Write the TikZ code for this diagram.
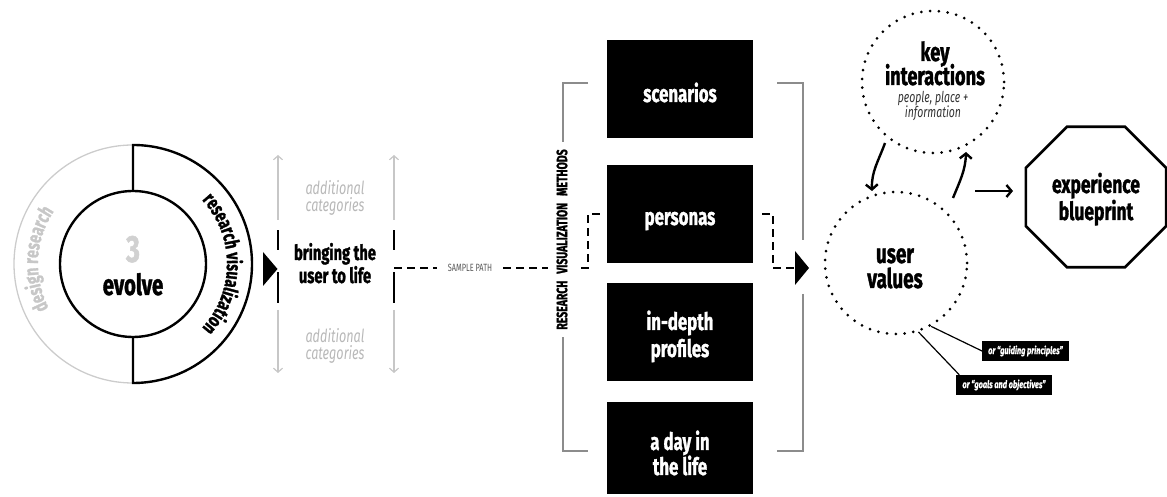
\documentclass[tikz,border=0pt]{standalone}
\usepackage{fontspec}
\setmainfont{Fira Sans}[FakeStretch=0.7, BoldFeatures={FakeBold=1.3}, BoldItalicFeatures={FakeBold=0.8}]
\usetikzlibrary{decorations.text,shapes.geometric,arrows.meta}
\begin{document}
\begin{tikzpicture}[x=1pt,y=1pt,
  every node/.style={inner sep=0pt},
  methodbox/.style={fill=black, minimum width=146pt, minimum height=98pt},
  methodtxt/.style={text=white, anchor=base, font=\bfseries\fontsize{24}{24}\selectfont},
  bigtxt/.style={anchor=base, font=\bfseries\fontsize{25}{25}\selectfont},
  dotc/.style={circle, draw, line width=3pt, dash pattern=on 0pt off 8.8pt, line cap=round, minimum size=142pt},
  arr/.style={line width=2.4pt, -{Straight Barb[length=5pt,width=12pt]}},
  samp/.style={line width=2pt, dash pattern=on 8pt off 5pt},
  brk/.style={draw=black!45, line width=1.2pt},
  grayarr/.style={draw=black!22, line width=1.2pt, -{Straight Barb[length=4pt,width=9pt]}},
  cat/.style={text=black!28, anchor=base, font=\itshape\fontsize{18}{18}\selectfont},
  tagbox/.style={fill=black, text=white, font=\bfseries\itshape\fontsize{10.5}{10.5}\selectfont, minimum height=20pt, inner xsep=6pt},
  leader/.style={line width=1.2pt},
]
\path[use as bounding box] (0,0) rectangle (1167,497);

% ---------- left ring ----------
\coordinate (C) at (133,233);
\draw[draw=black!20, line width=1.3pt] (133,352) arc[start angle=90,end angle=270,radius=119];
\draw[line width=2.4pt] (133,306) -- (133,352) arc[start angle=90,end angle=-90,radius=119] -- (133,160);
\node[circle, draw, line width=2.4pt, minimum size=146pt] (inner) at (C) {};
\node[anchor=base, text=black!18, font=\bfseries\fontsize{38}{38}\selectfont] (three) at (133,235) {3};
\node[anchor=base, font=\bfseries\fontsize{29}{29}\selectfont] (evolve) at (133,202) {evolve};
{\bfseries\fontsize{20}{20}\selectfont
\path[decorate, decoration={text along path, text align=center,
  text={research visualization}}]
  (C) ++(90:94) arc[start angle=90, end angle=-90, radius=94];
\path[decorate, decoration={text along path, text align=center,
  text={|\color{black!22}|design research}}]
  (C) ++(267:95) arc[start angle=267, end angle=87, radius=95];
}

% ---------- bringing the user to life ----------
\fill (263,245) -- (277.5,228) -- (263,211) -- cycle;
\foreach \x in {278,394} {
  \draw[grayarr] (\x,277) -- (\x,342);
  \draw[grayarr] (\x,187) -- (\x,124);
  \draw[line width=2pt] (\x,247) -- (\x,267);
  \draw[line width=2pt] (\x,194) -- (\x,225);
}
\node[cat] (addtopa) at (335,302) {additional};
\node[cat] (addtopb) at (335,285) {categories};
\node[cat] (addbota) at (335,154) {additional};
\node[cat] (addbotb) at (335,137) {categories};
\node[anchor=base, font=\bfseries\fontsize{21}{21}\selectfont] (bringa) at (335,237) {bringing the};
\node[anchor=base, font=\bfseries\fontsize{21}{21}\selectfont] (bringb) at (335,214) {user to life};

% ---------- methods ----------
\draw[brk] (588,414) -- (563,414) -- (563,46) -- (588,46);
\draw[brk] (777,414) -- (803,414) -- (803,257);
\draw[brk] (803,203) -- (803,46) -- (777,46);

\node[methodbox] (scen) at (680,408) {};
\node[methodbox] (pers) at (680,283) {};
\node[methodbox] (prof) at (680,164.5) {};
\node[methodbox, minimum height=92pt] (day) at (680,49) {};
\node[methodtxt] (scent) at (680,395) {scenarios};
\node[methodtxt] (perst) at (680,272) {personas};
\node[methodtxt] (proft1) at (680,167) {in-depth};
\node[methodtxt] (proft2) at (680,140) {profiles};
\node[methodtxt] (dayt1) at (680,47) {a day in};
\node[methodtxt] (dayt2) at (680,22) {the life};

% sample path
\node[text=black!65, font=\fontsize{10.5}{11}\selectfont] (sp) at (470,229) {SAMPLE PATH};
\draw[samp] (394,229) -- ([xshift=-11pt]sp.west);
\draw[samp] ([xshift=11pt]sp.east) -- (588,229) -- (588,283) -- ([xshift=-5pt]pers.west);
\draw[samp] ([xshift=9pt]pers.east) -- (773,283) -- (773,229) -- (795,229);
\fill (795,246) -- (809,229) -- (795,212) -- cycle;

\node[rotate=90, fill=white, inner xsep=7pt, inner ysep=9pt, font=\bfseries\fontsize{15}{15}\selectfont] (rvm) at (562,257.5)
  {RESEARCH\hspace{7pt}VISUALIZATION\hspace{7pt}METHODS};

% ---------- right part ----------
\node[dotc] (ki) at (933,415) {};
\node[dotc] (uv) at (896,234) {};
\node[bigtxt, font=\bfseries\fontsize{26}{26}\selectfont] (kit1) at (935,436) {key};
\node[bigtxt, font=\bfseries\fontsize{26}{26}\selectfont] (kit2) at (935,412) {interactions};
\node[anchor=base, text=black!80, font=\itshape\fontsize{15}{15}\selectfont] (kit3) at (933,394) {people, place +};
\node[anchor=base, text=black!80, font=\itshape\fontsize{15}{15}\selectfont] (kit4) at (933,379) {information};
\node[bigtxt, font=\bfseries\fontsize{27}{27}\selectfont] (uvt1) at (895,234) {user};
\node[bigtxt, font=\bfseries\fontsize{27}{27}\selectfont] (uvt2) at (895,209) {values};

\node[regular polygon, regular polygon sides=8, draw, line width=2.6pt, minimum size=152pt] (bp) at (1096,300) {};
\node[bigtxt] (bpt1) at (1096,304) {experience};
\node[bigtxt] (bpt2) at (1096,277) {blueprint};

\coordinate (a1s) at (885,354);
\coordinate (a1e) at (872,306);
\coordinate (a2s) at (953,299);
\coordinate (a2e) at (966,345);
\coordinate (a3s) at (975,306);
\coordinate (a3e) at (1013,306);
\draw[arr] (a1s) to[out=250, in=92] (a1e);
\draw[arr] (a2s) to[out=68, in=268] (a2e);
\draw[arr] (a3s) -- (a3e);

\node[tagbox] (gp) at (1025.5,146) {or “guiding principles”};
\node[tagbox] (go) at (1004,112) {or “goals and objectives”};
\draw[leader] (uv.-61) -- (gp.west);
\draw[leader] (uv.-72) -- ([xshift=3pt]go.north west);
\end{tikzpicture}
\end{document}
